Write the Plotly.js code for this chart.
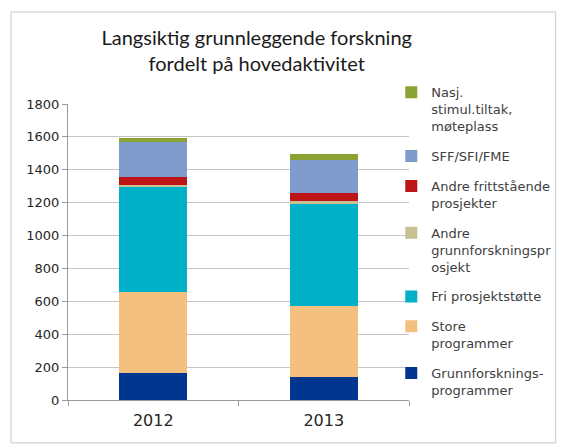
<!DOCTYPE html>
<html>
<head>
<meta charset="utf-8">
<script src="https://cdn.plot.ly/plotly-3.0.1.min.js"></script>
<style>
  html, body { margin: 0; padding: 0; background: #fff; }
  #chart { width: 568px; height: 445px; }
</style>
</head>
<body>
<div id="chart"></div>
<script>
// years on the x axis
const years = ['2012', '2013'];

// series, bottom of the stack first
const grunnforskningsprogrammer = [164, 140];
const storeProgrammer = [494, 433];
const friProsjektstotte = [636, 623];
const andreGrunnforskning = [14, 12];
const andreFrittstaende = [51, 52];
const sffSfiFme = [211, 200];
const nasjStimul = [26, 33];

const seriesNames = [
  'Grunnforsknings-<br>programmer',
  'Store<br>programmer',
  'Fri prosjektstøtte',
  'Andre<br>grunnforskningspr<br>osjekt',
  'Andre frittstående<br>prosjekter',
  'SFF/SFI/FME',
  'Nasj.<br>stimul.tiltak,<br>møteplass'
];
const seriesValues = [grunnforskningsprogrammer, storeProgrammer, friProsjektstotte,
  andreGrunnforskning, andreFrittstaende, sffSfiFme, nasjStimul];
const seriesColors = ['#00368f', '#f3c07f', '#00b0c9', '#c8bf92', '#bd1515', '#7f9bcb', '#8ba234'];

// legend lists the top of the stack first, like the original
let traces = seriesValues.map((vals, i) => ({
  type: 'bar',
  x: years,
  y: vals,
  name: seriesNames[i],
  legendgroup: 'g' + i,
  legendrank: 100 - i,
  marker: { color: seriesColors[i] },
  hoverinfo: 'x+y+name'
}));

let layout = {
  width: 568,
  height: 445,
  barmode: 'stack',
  bargap: 0.6,
  paper_bgcolor: '#ffffff',
  plot_bgcolor: '#ffffff',
  margin: { l: 68, r: 152, t: 104, b: 45 },
  font: { family: 'DejaVu Sans, Verdana, sans-serif', color: '#404040' },
  title: {
    text: 'Langsiktig grunnleggende forskning<br>fordelt på hovedaktivitet',
    font: { family: 'Lato, Carlito, sans-serif', size: 20, color: '#1a1a1a' },
    x: 0.452,
    xanchor: 'center',
    y: 0.9,
    yanchor: 'top'
  },
  xaxis: {
    type: 'category',
    showline: true,
    linecolor: '#9a9a9a',
    ticks: 'outside',
    tickson: 'boundaries',
    ticklen: 5,
    tickcolor: '#9a9a9a',
    tickfont: { size: 16, color: '#262626' },
    ticklabelstandoff: 6,
    showgrid: false
  },
  yaxis: {
    range: [0, 1800],
    dtick: 200,
    showline: true,
    linecolor: '#9a9a9a',
    ticks: 'outside',
    ticklen: 5,
    tickcolor: '#9a9a9a',
    tickfont: { size: 13, color: '#262626' },
    gridcolor: '#c4c4c4',
    zeroline: false
  },
  legend: {
    x: 0.948,
    xanchor: 'left',
    y: 1.09,
    yanchor: 'top',
    valign: 'top',
    maxheight: 420,
    traceorder: 'grouped',
    tracegroupgap: 10,
    font: { size: 13, color: '#404040' },
    bgcolor: 'rgba(0,0,0,0)'
  },
  shapes: [{
    type: 'rect',
    xref: 'paper', yref: 'paper',
    x0: -0.167, x1: 1.43, y0: -0.145, y1: 1.311,
    line: { color: '#c8c8c8', width: 1 },
    layer: 'below'
  }]
};

Plotly.newPlot('chart', traces, layout, { displayModeBar: false });
</script>
</body>
</html>
